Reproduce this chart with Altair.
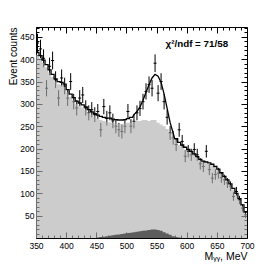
import altair as alt
import pandas as pd
import numpy as np

# ---------------- data ----------------
bin_lo = [350, 355, 360, 365, 370, 375, 380, 385, 390, 395,
          400, 405, 410, 415, 420, 425, 430, 435, 440, 445,
          450, 455, 460, 465, 470, 475, 480, 485, 490, 495,
          500, 505, 510, 515, 520, 525, 530, 535, 540, 545,
          550, 555, 560, 565, 570, 575, 580, 585, 590, 595,
          600, 605, 610, 615, 620, 625, 630, 635, 640, 645,
          650, 655, 660, 665, 670, 675, 680, 685, 690, 695]
BIN_W = 5
X_MAX = 700

counts = [436, 423, 402, 335, 384, 397, 354, 313, 358, 340,
          313, 350, 305, 291, 313, 320, 291, 280, 287, 276,
          283, 242, 294, 268, 280, 262, 250, 242, 238, 250,
          283, 250, 261, 280, 290, 305, 328, 343, 335, 391,
          324, 350, 305, 270, 235, 224, 209, 242, 216, 183,
          194, 186, 198, 186, 166, 160, 194, 153, 134, 142,
          145, 135, 130, 123, 116, 93, 104, 85, 67, 52]

fit_total = [415, 408, 398, 388, 376, 366, 356, 350, 348, 344,
             332, 322, 314, 306, 302, 298, 293, 287, 282, 278,
             275, 272, 270, 268, 268, 266, 265, 264, 264, 265,
             267, 270, 276, 283, 293, 308, 326, 343, 358, 366,
             362, 348, 322, 290, 258, 235, 222, 214, 208, 203,
             198, 194, 188, 182, 176, 172, 170, 168, 165, 160,
             154, 146, 138, 130, 121, 111, 100, 88, 74, 58]

background = [410, 402, 392, 382, 370, 360, 350, 344, 342, 338,
              326, 316, 308, 300, 296, 292, 287, 281, 276, 272,
              268, 264, 262, 260, 259, 257, 256, 255, 255, 256,
              258, 258, 260, 262, 262, 264, 264, 262, 264, 264,
              258, 254, 250, 244, 236, 226, 216, 208, 203, 198,
              193, 189, 185, 179, 173, 169, 167, 165, 162, 157,
              151, 143, 135, 127, 118, 108, 97, 85, 71, 55]

component = [0, 0, 0, 0, 0, 0, 0, 0, 0, 0,
             0, 0, 0, 0, 0, 0, 0, 0, 0, 0,
             1, 2, 3, 4, 5, 6, 7, 8, 9, 10,
             11, 12, 13, 14, 15, 16, 17, 18, 19, 19,
             18, 16, 13, 10, 7, 4, 2, 1, 0, 0,
             0, 0, 0, 0, 0, 0, 0, 0, 0, 0,
             0, 0, 0, 0, 0, 0, 0, 0, 0, 0]

# bins drawn as a smooth curve (peak region) in the fit line
smooth_bins = list(range(32, 46))

x_major = [350, 400, 450, 500, 550, 600, 650, 700]
x_minor = [v for v in range(350, 701, 10) if v % 50 != 0]
y_major = [50, 100, 150, 200, 250, 300, 350, 400, 450]
y_minor = [v for v in range(10, 471, 10) if v % 50 != 0]

FONT = "Liberation Sans"
Y_MAX = 472

# ---------------- tables ----------------
pts = pd.DataFrame({
    "lo": bin_lo,
    "hi": [b + BIN_W for b in bin_lo],
    "mid": [b + BIN_W / 2 for b in bin_lo],
    "n": counts,
})
pts["err"] = np.sqrt(pts["n"])
pts["nlo"] = pts["n"] - pts["err"]
pts["nhi"] = pts["n"] + pts["err"]

area = pd.DataFrame({
    "x": bin_lo + [X_MAX],
    "bg": background + [background[-1]],
    "comp": component + [component[-1]],
})

line_rows = []
for i, b in enumerate(bin_lo):
    if i in smooth_bins:
        line_rows.append((b + BIN_W / 2, fit_total[i]))
    else:
        line_rows.append((b, fit_total[i]))
        line_rows.append((b + BIN_W, fit_total[i]))
line = pd.DataFrame(line_rows, columns=["x", "y"])
line["k"] = range(len(line))

xs = alt.Scale(domain=[350, 700], nice=False, zero=False)
ys = alt.Scale(domain=[0, Y_MAX], nice=False, zero=True)

# ---------------- marks ----------------
vbar = alt.Chart(pts).mark_rule(color="black", strokeWidth=1).encode(
    x=alt.X("mid:Q", scale=xs, axis=None),
    y=alt.Y("nlo:Q", scale=ys, axis=None),
    y2="nhi:Q",
)
hbar = alt.Chart(pts).mark_rule(color="black", strokeWidth=1).encode(
    x=alt.X("lo:Q", scale=xs, axis=None),
    x2="hi:Q",
    y=alt.Y("n:Q", scale=ys, axis=None),
)
bg = alt.Chart(area).mark_area(interpolate="step-after", color="#afafaf",
                               opacity=0.63).encode(
    x=alt.X("x:Q", scale=xs, axis=None),
    y=alt.Y("bg:Q", scale=ys, axis=None),
)
comp = alt.Chart(area).mark_area(interpolate="step-after", color="#5c5c5c").encode(
    x=alt.X("x:Q", scale=xs, axis=None),
    y=alt.Y("comp:Q", scale=ys, axis=None),
)
fit = alt.Chart(line).mark_line(color="black", strokeWidth=1.3).encode(
    x=alt.X("x:Q", scale=xs, axis=None),
    y=alt.Y("y:Q", scale=ys, axis=None),
    order="k:Q",
)


def carrier(xaxis, yaxis):
    return alt.Chart(pts).mark_point(opacity=0).encode(
        x=alt.X("mid:Q", scale=xs, axis=xaxis),
        y=alt.Y("n:Q", scale=ys, axis=yaxis),
    )


common = dict(domain=False, grid=False, tickColor="black", tickWidth=1)
axA = carrier(
    alt.Axis(orient="bottom", values=x_major, tickSize=6, offset=-6,
             labelPadding=3, labelFont=FONT, labelFontSize=8.5,
             labelColor="black", title="M\u1d67\u1d67, MeV", titleAnchor="end",
             titleFont=FONT, titleFontSize=10.5, titleFontWeight="normal",
             titleColor="black", titlePadding=2, labelFlush=False, **common),
    alt.Axis(orient="left", values=y_major, tickSize=6, offset=-6,
             labelPadding=2, labelFont=FONT, labelFontSize=8.5,
             labelColor="black", title="Event counts", titleAnchor="end",
             titleFont=FONT, titleFontSize=10, titleFontWeight="normal",
             titleColor="black", titlePadding=1, **common),
)
axB = carrier(
    alt.Axis(orient="bottom", values=x_minor, tickSize=3, offset=-3,
             labels=False, title=None, **common),
    alt.Axis(orient="left", values=y_minor, tickSize=3, offset=-3,
             labels=False, title=None, **common),
)
axC = carrier(
    alt.Axis(orient="top", values=x_major, tickSize=6, offset=-6,
             labels=False, title=None, **common),
    alt.Axis(orient="right", values=y_major, tickSize=6, offset=-6,
             labels=False, title=None, **common),
)
axD = carrier(
    alt.Axis(orient="top", values=x_minor, tickSize=3, offset=-3,
             labels=False, title=None, **common),
    alt.Axis(orient="right", values=y_minor, tickSize=3, offset=-3,
             labels=False, title=None, **common),
)

chart = alt.layer(vbar, hbar, bg, comp, fit, axA, axB, axC, axD).resolve_axis(
    x="independent", y="independent"
).properties(
    width=211, height=211,
    padding={"left": 28, "top": 19, "right": 20, "bottom": 26},
    autosize=alt.AutoSizeParams(type="none"),
    title=alt.TitleParams("\u03c7\u00b2/ndf = 71/58", anchor="end", orient="top",
                          offset=-22, dx=-26, font=FONT, fontSize=9.8,
                          fontWeight="bold", color="black"),
).configure_view(stroke="black", strokeWidth=1)

chart.save("out.html", embed_options={"renderer": "svg", "actions": False})
